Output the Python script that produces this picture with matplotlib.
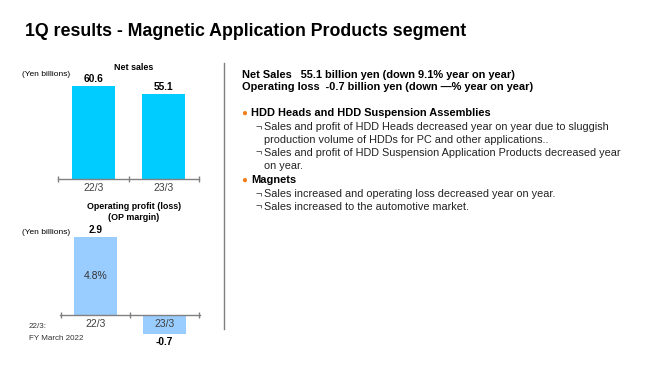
import matplotlib
matplotlib.use("Agg")
import matplotlib.pyplot as plt

# ── Data ──────────────────────────────────────────────────────────────────
periods    = ["22/3", "23/3"]
net_sales  = [60.6, 55.1]
op_profit  = [2.9, -0.7]
op_margin  = ["4.8%", ""]

title = "1Q results - Magnetic Application Products segment"
summary = [
    "Net Sales   55.1 billion yen (down 9.1% year on year)",
    "Operating loss  -0.7 billion yen (down \u2014% year on year)",
]
sections = [
    ("HDD Heads and HDD Suspension Assemblies", [
        ["Sales and profit of HDD Heads decreased year on year due to sluggish",
         "production volume of HDDs for PC and other applications.."],
        ["Sales and profit of HDD Suspension Application Products decreased year",
         "on year."],
    ]),
    ("Magnets", [
        ["Sales increased and operating loss decreased year on year."],
        ["Sales increased to the automotive market."],
    ]),
]

# ── Style ────────────────────────────────────────────────────────────────
SALES_C  = "#00CCFF"
OP_C     = "#99CCFF"
AXIS_C   = "#808080"
BULLET_C = "#F07D1A"
TXT_C    = "#000000"
plt.rcParams["font.family"] = ["Liberation Sans", "DejaVu Sans"]

W, H = 660, 371
fig = plt.figure(figsize=(W / 100, H / 100), dpi=100)
fig.patch.set_facecolor("white")


def px(x, y):
    return x / W, 1 - y / H


def add_ax(left, right, top, bottom):
    return fig.add_axes([left / W, 1 - bottom / H, (right - left) / W, (bottom - top) / H])


def style_bar_axis(ax):
    for s in ["top", "right", "left"]:
        ax.spines[s].set_visible(False)
    ax.spines["bottom"].set_position(("data", 0))
    ax.spines["bottom"].set_color(AXIS_C)
    ax.spines["bottom"].set_linewidth(1.0)
    ax.set_yticks([])
    ax.set_xticks([-0.5, 0.5, 1.5])
    ax.set_xticklabels([])
    ax.tick_params(axis="x", which="major", direction="inout", length=4,
                   color=AXIS_C, width=1.0)
    ax.set_xticks([0, 1], minor=True)
    ax.set_xticklabels(periods, minor=True)
    ax.tick_params(axis="x", which="minor", length=0, pad=3,
                   labelsize=7.5, labelcolor="#404040")
    ax.patch.set_alpha(0)


# ── Net sales chart ──────────────────────────────────────────────────────
ax1 = add_ax(58, 199, 63, 179)
ax1.bar(range(len(periods)), net_sales, width=0.61, color=SALES_C)
ax1.set_xlim(-0.507, 1.507)
ax1.set_ylim(0, 75.6)
style_bar_axis(ax1)
for i, v in enumerate(net_sales):
    ax1.annotate(f"{v:.1f}", (i, v), xytext=(0, 1.5), textcoords="offset points",
                 ha="center", va="bottom", fontsize=7.3, fontweight="bold")

fig.text(*px(134, 68), "Net sales", ha="center", va="center",
         fontsize=6.4, fontweight="bold")
fig.text(*px(22, 75), "(Yen billions)", ha="left", va="center", fontsize=6)

# ── Operating profit chart ───────────────────────────────────────────────
ax2 = add_ax(60, 200, 225, 345)
ax2.bar(range(len(periods)), op_profit, width=0.62, color=OP_C)
ax2.set_xlim(-0.514, 1.514)
ax2.set_ylim(-30 / 26.9, 90 / 26.9)
style_bar_axis(ax2)
for i, v in enumerate(op_profit):
    if v >= 0:
        ax2.annotate(f"{v:.1f}", (i, v), xytext=(0, 1.5), textcoords="offset points",
                     ha="center", va="bottom", fontsize=7.3, fontweight="bold")
    else:
        ax2.annotate(f"{v:.1f}", (i, v), xytext=(0, -2), textcoords="offset points",
                     ha="center", va="top", fontsize=7.3, fontweight="bold")
    if op_margin[i]:
        ax2.text(i, v / 2, op_margin[i], ha="center", va="center",
                 fontsize=7.5, color="#333333")

fig.text(*px(134, 207), "Operating profit (loss)", ha="center", va="center",
         fontsize=6.4, fontweight="bold")
fig.text(*px(134, 218), "(OP margin)", ha="center", va="center",
         fontsize=6.4, fontweight="bold")
fig.text(*px(22, 232), "(Yen billions)", ha="left", va="center", fontsize=6)
fig.text(*px(29, 327), "22/3:", ha="left", va="center", fontsize=5.8, color="#333333")
fig.text(*px(29, 338), "FY March 2022", ha="left", va="center", fontsize=5.8,
         color="#333333")

# ── Divider ──────────────────────────────────────────────────────────────
fig.add_artist(plt.Line2D([224 / W, 224 / W], [1 - 63 / H, 1 - 329 / H],
                          color="#7f7f7f", lw=1.0))

# ── Title ────────────────────────────────────────────────────────────────
fig.text(*px(25, 31), title, ha="left", va="center", fontsize=12.8,
         fontweight="bold", color=TXT_C)

# ── Right-hand text ──────────────────────────────────────────────────────
y = 75
for line in summary:
    fig.text(*px(242, y), line, ha="left", va="center", fontsize=7.9,
             fontweight="bold", color=TXT_C)
    y += 12.5
y = 113
for head, items in sections:
    fig.text(*px(241, y), "\u25cf", ha="left", va="center", fontsize=7,
             color=BULLET_C)
    fig.text(*px(251, y), head, ha="left", va="center", fontsize=7.9,
             fontweight="bold", color=TXT_C)
    y += 14.5
    for item in items:
        for j, line in enumerate(item):
            if j == 0:
                fig.text(*px(256, y), "\u00ac", ha="left", va="center",
                         fontsize=7.8, color="#333333")
            fig.text(*px(264.5, y), line, ha="left", va="center", fontsize=7.8,
                     color="#222222")
            y += 12.8
    y += 1

fig.savefig("out.png", dpi=100, facecolor="white")
